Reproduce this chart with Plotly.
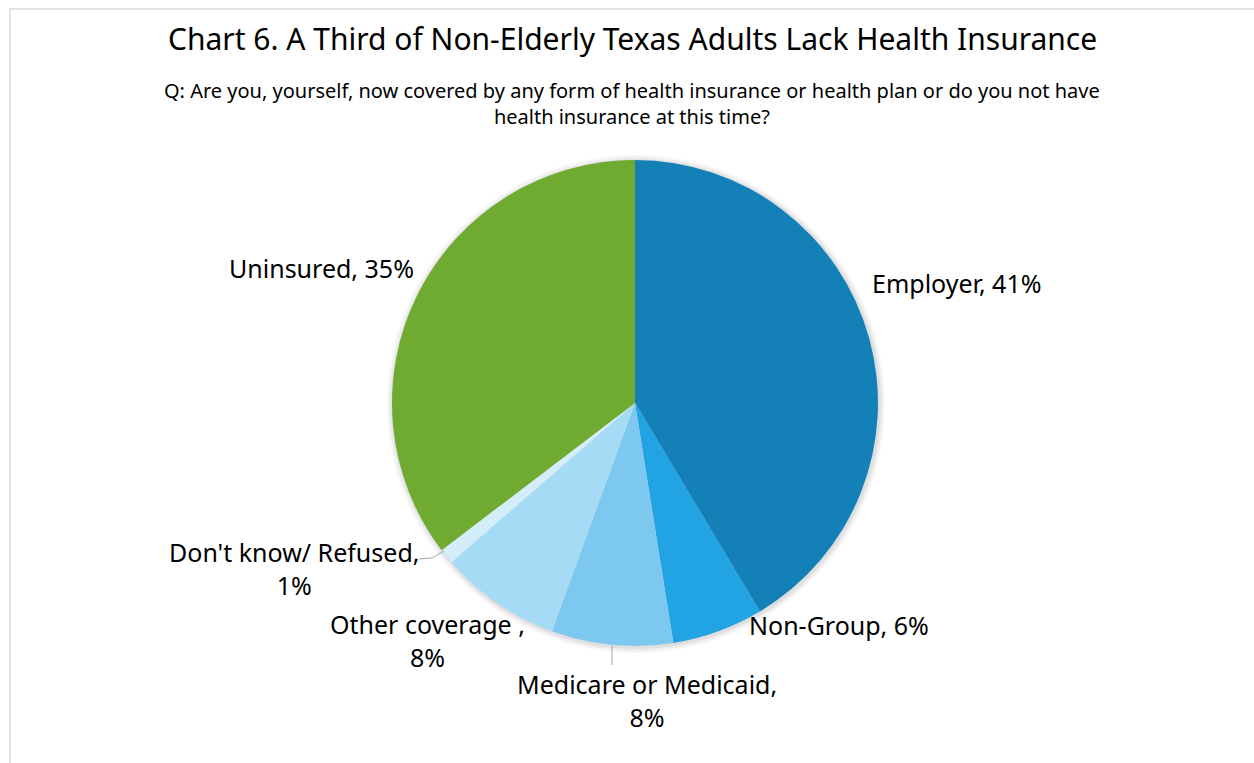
import plotly.graph_objects as go

W, H = 1254, 763

categories = ["Employer", "Non-Group", "Medicare or Medicaid", "Other coverage ", "Don't know/ Refused", "Uninsured"]
values = [41, 6, 8, 8, 1, 35]
colors = ["#1480B8", "#21A3E4", "#7CC8EE", "#A6DBF5", "#D3EDFA", "#6FAA31"]

title = "Chart 6. A Third of Non-Elderly Texas Adults Lack Health Insurance"
subtitle = "Q: Are you, yourself, now covered by any form of health insurance or health plan or do you not have<br>health insurance at this time?"

# label layout (pixel positions, alignment, line break)
label_pos = [(870, 283, "left"), (747, 625, "left"), (647, 700, "center"),
             (427, 640, "center"), (294, 568, "center"), (416, 268, "right")]
label_break = [False, False, True, True, True, False]

cx, cy, r = 635, 403, 243

def px(x):
    return x / W

def py(y):
    return 1 - y / H

fig = go.Figure()
fig.add_trace(go.Pie(
    labels=categories, values=values, sort=False, direction="clockwise", rotation=0,
    marker=dict(colors=colors, line=dict(width=0)),
    textinfo="none", hoverinfo="label+percent", showlegend=False,
    domain=dict(x=[px(cx - r), px(cx + r)], y=[py(cy + r), py(cy - r)]),
))

shapes = []
# soft shadow behind the pie
for d, op in [(6, 0.03), (4, 0.04), (2, 0.06)]:
    shapes.append(dict(type="circle", xref="paper", yref="paper", layer="below",
                       x0=px(cx - r - d + 1), x1=px(cx + r + d + 1),
                       y0=py(cy + r + d + 1), y1=py(cy - r - d + 1),
                       fillcolor=f"rgba(0,0,0,{op})", line=dict(width=0)))
# chart border
shapes.append(dict(type="rect", xref="paper", yref="paper", x0=px(10), x1=px(1300),
                   y0=py(800), y1=py(9), line=dict(color="#D9D9D9", width=1.5)))
# leader lines
shapes.append(dict(type="line", xref="paper", yref="paper", x0=px(612), x1=px(612),
                   y0=py(646), y1=py(665), line=dict(color="#A6A6A6", width=1)))
shapes.append(dict(type="path", xref="paper", yref="paper",
                   path=f"M {px(444)} {py(551)} L {px(432)} {py(558)} L {px(419)} {py(559)}",
                   line=dict(color="#A6A6A6", width=1)))

annotations = [
    dict(text=title, x=px(632), y=py(38), xref="paper", yref="paper", showarrow=False,
         font=dict(size=30, color="#000000", family="Noto Sans"), xanchor="center", yanchor="middle"),
    dict(text=subtitle, x=px(632), y=py(103), xref="paper", yref="paper", showarrow=False,
         font=dict(size=20, color="#000000", family="Noto Sans"), xanchor="center", yanchor="middle",
         align="center"),
]
for cat, v, (lx, ly, al), br in zip(categories, values, label_pos, label_break):
    sep = ",<br>" if br else ", "
    annotations.append(dict(text=f"{cat}{sep}{v}%", x=px(lx), y=py(ly), xref="paper", yref="paper",
                            showarrow=False, xanchor=al, yanchor="middle", align="center",
                            font=dict(size=25, color="#000000", family="Noto Sans")))

fig.update_layout(
    width=W, height=H, margin=dict(l=0, r=0, t=0, b=0),
    paper_bgcolor="white", plot_bgcolor="white",
    shapes=shapes, annotations=annotations,
)
fig.write_html("out.html", config={"displayModeBar": False},
               post_script="document.body.style.margin='0';document.body.style.overflow='hidden';")
